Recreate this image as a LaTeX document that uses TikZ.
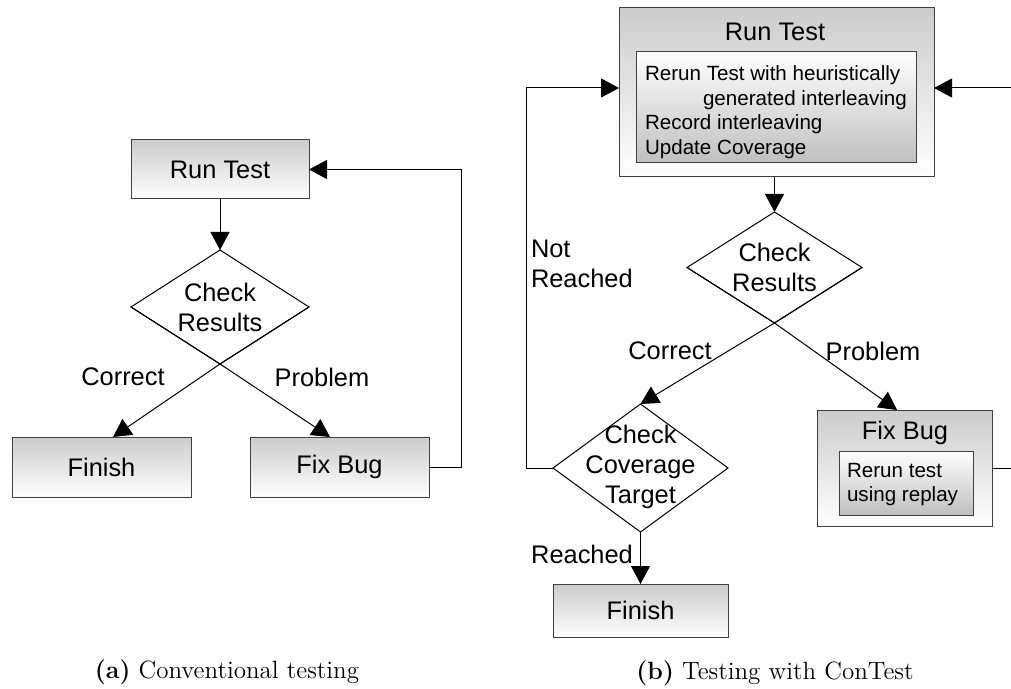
\documentclass[tikz,border=0pt]{standalone}
\usepackage{fontspec}
\newfontfamily\arialf{Liberation Sans}
\usetikzlibrary{arrows.meta,shapes.geometric}
\begin{document}
\begin{tikzpicture}[x=0.5pt,y=-0.5pt,
  every node/.style={font=\arialf\fontsize{12.7}{15}\selectfont, inner sep=0pt, outer sep=0pt},
  box/.style={rectangle, draw=black!75, line width=0.5pt, top color=black!20, bottom color=white},
  inbox/.style={rectangle, draw=black!75, line width=0.5pt, top color=white, bottom color=black!25},
  dia/.style={diamond, draw=black, line width=0.5pt, fill=white},
  arr/.style={draw=black, line width=0.5pt, -{Triangle[length=9pt,width=9.5pt]}},
  ln/.style={draw=black, line width=0.5pt},
  small/.style={font=\arialf\fontsize{10.3}{12.25}\selectfont, align=left},
  captext/.style={font=\fontsize{12.5}{14}\selectfont}
]
\useasboundingbox (0,0) rectangle (1011,689);

% ---------- (a) conventional testing ----------
\node (rt1) [box, minimum width=89pt, minimum height=29.5pt] at (220,169.5) {Run Test};
\node (cr1) [dia, minimum width=89pt, minimum height=57pt] at (220,307) {};
\node (cr1t) [align=center] at (220,307) {Check\\Results};
\node (fin1) [box, minimum width=89.5pt, minimum height=30pt] at (101.5,467) {Finish};
\node (fix1) [box, minimum width=89.5pt, minimum height=30pt] at (339.5,467) {Fix Bug};
\node (cor1) at (123,377) {Correct};
\node (pro1) at (322,377) {Problem};

\draw[arr] (rt1.south) -- (cr1.north);
\draw[arr] (cr1.east) -- (cr1.south) -- ([xshift=5.75pt]fin1.north);
\draw[arr] (cr1.west) -- (cr1.south) -- ([xshift=-4.75pt]fix1.north);
\draw[arr] (fix1.east) -- ++(16pt,0) |- (rt1.east);

\node (capa) [captext] at (227,672) {\textbf{(a)} Conventional testing};

% ---------- (b) testing with ConTest ----------
\node (rt2) [box, minimum width=157.5pt, minimum height=84.5pt] at (776.5,92.5) {};
\node (rt2t) at (775,32) {Run Test};
\node (rt2i) [inbox, minimum width=140pt, minimum height=55.5pt] at (776,107.5) {};
\node (rt2x) [small, anchor=north west] at (645,66)
  {Rerun Test with heuristically\\\hspace*{29pt}generated interleaving\\Record interleaving\\Update Coverage};

\node (cr2) [dia, minimum width=87.5pt, minimum height=55.5pt] at (774.5,267.5) {};
\node (cr2t) [align=center] at (774.5,267.5) {Check\\Results};

\node (cc) [dia, minimum width=87.5pt, minimum height=64pt] at (640.5,468) {};
\node (cct) [align=center] at (640.5,467) {Check\\Coverage\\Target};

\node (fin2) [box, minimum width=87.5pt, minimum height=26.5pt] at (640.5,610.5) {Finish};

\node (fb2) [box, minimum width=87.5pt, minimum height=58pt] at (904.5,468) {};
\node (fb2t) at (905,433) {Fix Bug};
\node (fb2i) [inbox, minimum width=67pt, minimum height=32pt] at (906,483) {};
\node (fb2x) [small, anchor=north west, font=\arialf\fontsize{10.3}{12}\selectfont] at (847,463.7) {Rerun test\\using replay};

\node (cor2) at (670,351) {Correct};
\node (pro2) at (873,351) {Problem};
\node (nr) [anchor=west, align=left] at (531,264) {Not\\Reached};
\node (rea) at (582,554) {Reached};

\coordinate (rin) at (1014,88);
\coordinate (rout) at (1014,468);

\draw[arr] (cr2.north |- rt2.south) -- (cr2.north);
\draw[arr] (cr2.east) -- (cr2.south) -- (cc.north);
\draw[arr] (cr2.west) -- (cr2.south) -- ([xshift=-3.75pt]fb2.north);
\draw[arr] (cc.south) -- (fin2.north);
\draw[arr] (cc.west) -- ++(-13.5pt,0) |- ([yshift=2.25pt]rt2.west);
\draw[arr] (rin) -- ([yshift=2.25pt]rt2.east);
\draw[ln] (fb2.east) -- (rout);

\node (capb) [captext] at (775,673) {\textbf{(b)} Testing with ConTest};
\end{tikzpicture}
\end{document}
